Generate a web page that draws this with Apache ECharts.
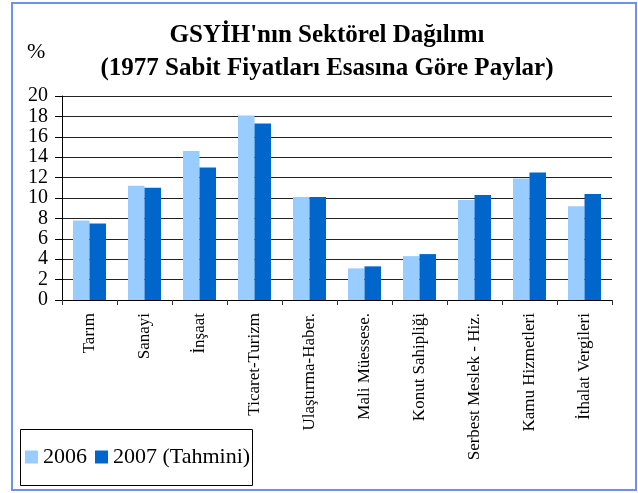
<!DOCTYPE html>
<html>
<head>
<meta charset="utf-8">
<script src="https://cdn.jsdelivr.net/npm/echarts@6/dist/echarts.min.js"></script>
<style>
  html, body { margin: 0; padding: 0; background: #fff; }
  #main { width: 638px; height: 493px; }
</style>
</head>
<body>
<div id="main"></div>
<script>
// sektörler
const categories = ['Tarım', 'Sanayi', 'İnşaat', 'Ticaret-Turizm', 'Ulaştırma-Haber.',
  'Mali Müessese.', 'Konut Sahipliği', 'Serbest Meslek - Hiz.', 'Kamu Hizmetleri', 'İthalat Vergileri'];
const values2006 = [7.8, 11.2, 14.6, 18.1, 10.1, 3.1, 4.3, 9.8, 11.9, 9.2];
const values2007 = [7.5, 11.0, 13.0, 17.3, 10.1, 3.3, 4.5, 10.3, 12.5, 10.4];
const seriesNames = ['2006', '2007 (Tahmini)'];
const yTicks = { min: 0, max: 20, interval: 2 };

const serif = "'Liberation Serif', 'Times New Roman', serif";

let myChart = echarts.init(document.getElementById('main'));

let option = {
  animation: false,
  backgroundColor: '#fff',
  color: ['#99CCFF', '#0066CC'],
  title: {
    text: "GSYİH'nın Sektörel Dağılımı\n(1977 Sabit Fiyatları Esasına Göre Paylar)",
    left: 322,
    top: 14,
    textAlign: 'center',
    textStyle: {
      fontFamily: serif,
      fontSize: 25,
      fontWeight: 'bold',
      color: '#000',
      lineHeight: 33
    }
  },
  legend: {
    data: seriesNames,
    left: 25,
    top: 446,
    icon: 'rect',
    itemWidth: 13,
    itemHeight: 13,
    itemGap: 8,
    padding: 0,
    textStyle: {
      fontFamily: serif,
      fontSize: 22,
      lineHeight: 22,
      color: '#000'
    }
  },
  grid: {
    left: 62,
    right: 26,
    top: 96,
    bottom: 193
  },
  xAxis: {
    type: 'category',
    data: categories,
    axisLine: { lineStyle: { color: '#000', width: 1 } },
    axisTick: { show: true, alignWithLabel: false, length: 5, lineStyle: { color: '#333' } },
    axisLabel: {
      interval: 0,
      rotate: 90,
      margin: 13,
      fontFamily: serif,
      fontSize: 17,
      color: '#000'
    }
  },
  yAxis: {
    type: 'value',
    min: yTicks.min,
    max: yTicks.max,
    interval: yTicks.interval,
    axisLine: { show: true, lineStyle: { color: '#000', width: 1 } },
    axisTick: { show: true, length: 7, lineStyle: { color: '#000' } },
    axisLabel: {
      margin: 14,
      fontFamily: serif,
      fontSize: 20,
      color: '#000',
      showMinLabel: true,
      showMaxLabel: true
    },
    splitLine: { lineStyle: { color: '#222', width: 1 } }
  },
  series: [
    {
      name: seriesNames[0],
      type: 'bar',
      data: values2006,
      barGap: 0,
      barCategoryGap: '40%'
    },
    {
      name: seriesNames[1],
      type: 'bar',
      data: values2007,
      barGap: 0,
      barCategoryGap: '40%'
    }
  ],
  graphic: [
    // dış çerçeve
    {
      type: 'rect',
      shape: { x: 12, y: 3, width: 624, height: 487 },
      style: { fill: 'none', stroke: '#7090f0', lineWidth: 2 },
      silent: true
    },
    // lejant kutusu
    {
      type: 'rect',
      shape: { x: 20.5, y: 429.5, width: 232, height: 56 },
      style: { fill: 'none', stroke: '#000', lineWidth: 1 },
      silent: true
    },
    {
      type: 'text',
      left: 27,
      top: 41,
      style: { text: '%', fontFamily: serif, fontSize: 22, fill: '#000' },
      silent: true
    }
  ]
};

myChart.setOption(option);
</script>
</body>
</html>
